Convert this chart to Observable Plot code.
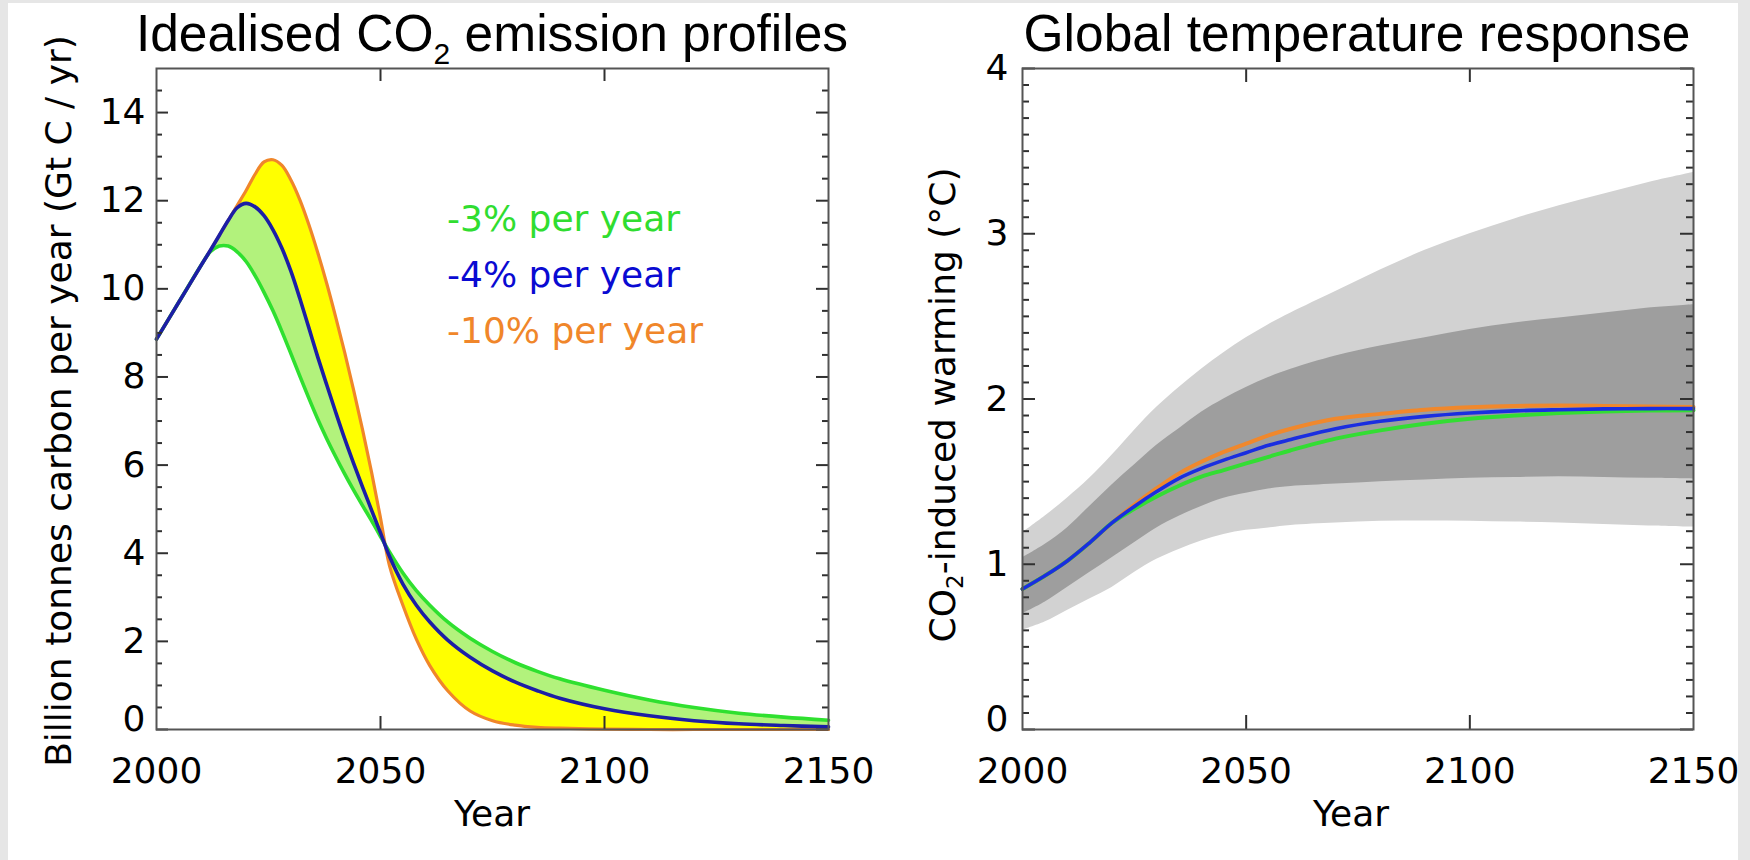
<!DOCTYPE html>
<html>
<head>
<meta charset="utf-8">
<script src="https://cdn.jsdelivr.net/npm/d3@7"></script>
<script src="https://cdn.jsdelivr.net/npm/@observablehq/plot@0.6"></script>
<style>
  html, body { margin: 0; padding: 0; background: #e6e6e6; }
  #page { position: relative; width: 1750px; height: 860px; overflow: hidden; background: #e6e6e6; }
  #white { position: absolute; left: 8px; top: 3px; width: 1730px; height: 857px; background: #ffffff; }
  .panel { position: absolute; top: 0; }
  #overlay { position: absolute; left: 0; top: 0; pointer-events: none; }
</style>
</head>
<body>
<div id="page">
  <div id="white"></div>
  <div id="left" class="panel" style="left:0px"></div>
  <div id="right" class="panel" style="left:875px"></div>
  <svg id="overlay" width="1750" height="860" xmlns="http://www.w3.org/2000/svg">
    <g font-family="'Liberation Sans', Arial, Helvetica, sans-serif" font-size="51.5" fill="#000" text-anchor="middle">
      <text x="492" y="51">Idealised CO<tspan font-size="30" dy="13">2</tspan><tspan dy="-13"> emission profiles</tspan></text>
      <text x="1357" y="51">Global temperature response</text>
    </g>
    <g font-family="'DejaVu Sans', Verdana, sans-serif" font-size="36" fill="#000">
      <text x="492" y="826" text-anchor="middle">Year</text>
      <text x="1351" y="826" text-anchor="middle">Year</text>
      <text transform="translate(71,401) rotate(-90)" text-anchor="middle">Billion tonnes carbon per year (Gt C / yr)</text>
      <text transform="translate(955,405) rotate(-90)" text-anchor="middle">CO<tspan font-size="23" dy="8">2</tspan><tspan dy="-8">-induced warming (°C)</tspan></text>
    </g>
    <g id="legend" font-family="'DejaVu Sans', Verdana, sans-serif" font-size="36"></g>
  </svg>
</div>
<script>
// ---------------- Data: left panel (emission profiles, Gt C / yr) ----------------
const emisYears = [2000,2005,2010,2012,2014,2016,2018,2020,2022,2024,2026,2028,2030,2032,2034,2036,2038,2040,2042,2044,2046,2048,2050,2052,2055,2058,2061,2065,2070,2075,2080,2085,2090,2100,2110,2120,2130,2140,2150];
const emis3  = [8.86,9.70,10.54,10.84,10.97,10.97,10.84,10.62,10.30,9.92,9.50,9.03,8.53,8.02,7.52,7.04,6.60,6.19,5.80,5.43,5.08,4.74,4.38,4.03,3.55,3.15,2.82,2.44,2.07,1.77,1.52,1.32,1.15,0.89,0.67,0.50,0.37,0.28,0.21];
const emis4  = [8.86,9.70,10.54,10.87,11.21,11.55,11.84,11.94,11.86,11.66,11.34,10.92,10.40,9.78,9.12,8.45,7.82,7.20,6.60,6.04,5.50,4.98,4.46,3.93,3.30,2.82,2.44,2.03,1.64,1.33,1.08,0.88,0.71,0.47,0.31,0.20,0.13,0.09,0.06];
const emis10 = [8.86,9.70,10.54,10.87,11.21,11.55,11.89,12.23,12.60,12.88,12.93,12.80,12.47,12.02,11.46,10.82,10.12,9.36,8.56,7.70,6.80,5.84,4.80,3.72,2.82,2.05,1.45,0.88,0.42,0.20,0.10,0.05,0.03,0.01,0,0,0,0,0];

// ---------------- Data: right panel (CO2-induced warming, °C) ----------------
const tempYears = [2000,2005,2010,2015,2020,2025,2030,2035,2040,2045,2050,2055,2060,2070,2080,2090,2100,2110,2120,2130,2140,2150];
const temp3  = [0.85,0.93,1.02,1.13,1.25,1.335,1.41,1.475,1.53,1.57,1.61,1.65,1.69,1.76,1.81,1.85,1.88,1.90,1.915,1.925,1.93,1.932];
const temp4  = [0.85,0.93,1.02,1.13,1.25,1.35,1.44,1.52,1.58,1.63,1.675,1.72,1.755,1.82,1.865,1.895,1.915,1.928,1.935,1.94,1.942,1.942];
const temp10 = [0.85,0.93,1.02,1.13,1.25,1.36,1.46,1.55,1.62,1.68,1.73,1.78,1.82,1.88,1.91,1.935,1.95,1.958,1.96,1.958,1.955,1.952];
const outerLow  = [0.60,0.65,0.72,0.79,0.86,0.95,1.03,1.09,1.14,1.18,1.205,1.22,1.235,1.25,1.26,1.262,1.26,1.255,1.25,1.24,1.232,1.225];
const outerHigh = [1.19,1.29,1.40,1.52,1.66,1.81,1.95,2.07,2.18,2.28,2.37,2.45,2.52,2.65,2.78,2.90,3.00,3.09,3.17,3.24,3.31,3.37];
const innerLow  = [0.70,0.77,0.86,0.95,1.04,1.13,1.22,1.29,1.35,1.40,1.43,1.455,1.47,1.485,1.50,1.51,1.52,1.525,1.53,1.525,1.52,1.515];
const innerHigh = [1.04,1.12,1.22,1.35,1.48,1.60,1.72,1.82,1.92,2.00,2.07,2.13,2.18,2.26,2.32,2.37,2.42,2.46,2.49,2.52,2.55,2.57];

// ---------------- Ticks and labels ----------------
const yearTicks = [2000, 2050, 2100, 2150];
const emisTicks = [0, 2, 4, 6, 8, 10, 12, 14];
const tempTicks = [0, 1, 2, 3, 4];
const legendLabels = ["-3% per year", "-4% per year", "-10% per year"];
const legendColors = ["#30dd30", "#0a0ad2", "#f0862a"];

// ---------------- Build tables ----------------
const emis = emisYears.map((year, i) => ({year, g: emis3[i], b: emis4[i], o: emis10[i]}));
const temp = tempYears.map((year, i) => ({year, g: temp3[i], b: temp4[i], o: temp10[i],
  ol: outerLow[i], oh: outerHigh[i], il: innerLow[i], ih: innerHigh[i]}));

const curve = "catmull-rom";
const W = 875, H = 860;
const tickStroke = "#303030";
const fmt = d => String(d);

function boxTicks(fw, fh, yMajor, yMinor, majLen, minLen, xLen) {
  const xInner = [2050, 2100];
  return [
    Plot.tickY(yMinor, {y: d => d, insetRight: fw - minLen, stroke: tickStroke, strokeWidth: 2}),
    Plot.tickY(yMinor, {y: d => d, insetLeft: fw - minLen, stroke: tickStroke, strokeWidth: 2}),
    Plot.tickY(yMajor, {y: d => d, insetRight: fw - majLen, stroke: tickStroke, strokeWidth: 2}),
    Plot.tickY(yMajor, {y: d => d, insetLeft: fw - majLen, stroke: tickStroke, strokeWidth: 2}),
    Plot.tickX(xInner, {x: d => d, insetTop: fh - xLen, stroke: tickStroke, strokeWidth: 2}),
    Plot.tickX(xInner, {x: d => d, insetBottom: fh - xLen, stroke: tickStroke, strokeWidth: 2})
  ];
}

// ---------------- Left panel ----------------
{
  const mL = 156, mR = 47, mT = 68, mB = 131;
  const fw = W - mL - mR, fh = H - mT - mB;
  const minor = d3.range(0.5, 15, 0.5).filter(v => v % 2 !== 0);
  const chart = Plot.plot({
    width: W, height: H,
    marginLeft: mL, marginRight: mR, marginTop: mT, marginBottom: mB,
    style: {background: "transparent", fontFamily: "'DejaVu Sans', Verdana, sans-serif", fontSize: "36px", color: "#000", overflow: "visible"},
    x: {domain: [2000, 2150], label: null},
    y: {domain: [0, 15], label: null},
    marks: [
      Plot.areaY(emis, {x: "year", y1: "g", y2: "b", fill: "#b2f27c", curve}),
      Plot.areaY(emis, {x: "year", y1: "b", y2: "o", fill: "#ffff00", curve}),
      Plot.lineY(emis, {x: "year", y: "o", stroke: "#f0862a", strokeWidth: 3.2, curve}),
      Plot.lineY(emis, {x: "year", y: "g", stroke: "#2fe02f", strokeWidth: 3.6, curve}),
      Plot.lineY(emis, {x: "year", y: "b", stroke: "#1c1ea6", strokeWidth: 3.6, curve}),
      ...boxTicks(fw, fh, emisTicks, minor, 12, 6, 13),
      Plot.frame({stroke: "#555", strokeWidth: 2}),
      Plot.axisX(yearTicks, {anchor: "bottom", tickSize: 0, tickPadding: 28, tickFormat: fmt, label: null}),
      Plot.axisY(emisTicks.filter(d => d > 0), {anchor: "left", tickSize: 0, tickPadding: 11, tickFormat: fmt, label: null}),
      Plot.axisY([0], {anchor: "left", tickSize: 0, tickPadding: 11, dy: -10, tickFormat: fmt, label: null})
    ]
  });
  document.getElementById("left").appendChild(chart);
}

// ---------------- Right panel ----------------
{
  const mL = 147, mR = 57, mT = 68, mB = 131;
  const fw = W - mL - mR, fh = H - mT - mB;
  const minor = d3.range(1, 40).map(v => v / 10).filter(v => Math.abs(v - Math.round(v)) > 1e-6);
  const chart = Plot.plot({
    width: W, height: H,
    marginLeft: mL, marginRight: mR, marginTop: mT, marginBottom: mB,
    style: {background: "transparent", fontFamily: "'DejaVu Sans', Verdana, sans-serif", fontSize: "36px", color: "#000", overflow: "visible"},
    x: {domain: [2000, 2150], label: null},
    y: {domain: [0, 4], label: null},
    marks: [
      Plot.areaY(temp, {x: "year", y1: "ol", y2: "oh", fill: "#d2d2d2", curve}),
      Plot.areaY(temp, {x: "year", y1: "il", y2: "ih", fill: "#9e9e9e", curve}),
      Plot.lineY(temp, {x: "year", y: "o", stroke: "#f0882c", strokeWidth: 4, curve}),
      Plot.lineY(temp, {x: "year", y: "g", stroke: "#33dd33", strokeWidth: 4, curve}),
      Plot.lineY(temp, {x: "year", y: "b", stroke: "#1a2ee0", strokeWidth: 3.6, curve}),
      ...boxTicks(fw, fh, tempTicks, minor, 13, 7, 14),
      Plot.frame({stroke: "#555", strokeWidth: 2}),
      Plot.axisX(yearTicks, {anchor: "bottom", tickSize: 0, tickPadding: 28, tickFormat: fmt, label: null}),
      Plot.axisY(tempTicks.filter(d => d > 0), {anchor: "left", tickSize: 0, tickPadding: 14, tickFormat: fmt, label: null}),
      Plot.axisY([0], {anchor: "left", tickSize: 0, tickPadding: 14, dy: -10, tickFormat: fmt, label: null})
    ]
  });
  document.getElementById("right").appendChild(chart);
}

// ---------------- Legend (left panel) ----------------
{
  const g = document.getElementById("legend");
  const baselines = [231, 287, 343];
  legendLabels.forEach((t, i) => {
    const el = document.createElementNS("http://www.w3.org/2000/svg", "text");
    el.setAttribute("x", 447);
    el.setAttribute("y", baselines[i]);
    el.setAttribute("fill", legendColors[i]);
    el.textContent = t;
    g.appendChild(el);
  });
}
</script>
</body>
</html>
